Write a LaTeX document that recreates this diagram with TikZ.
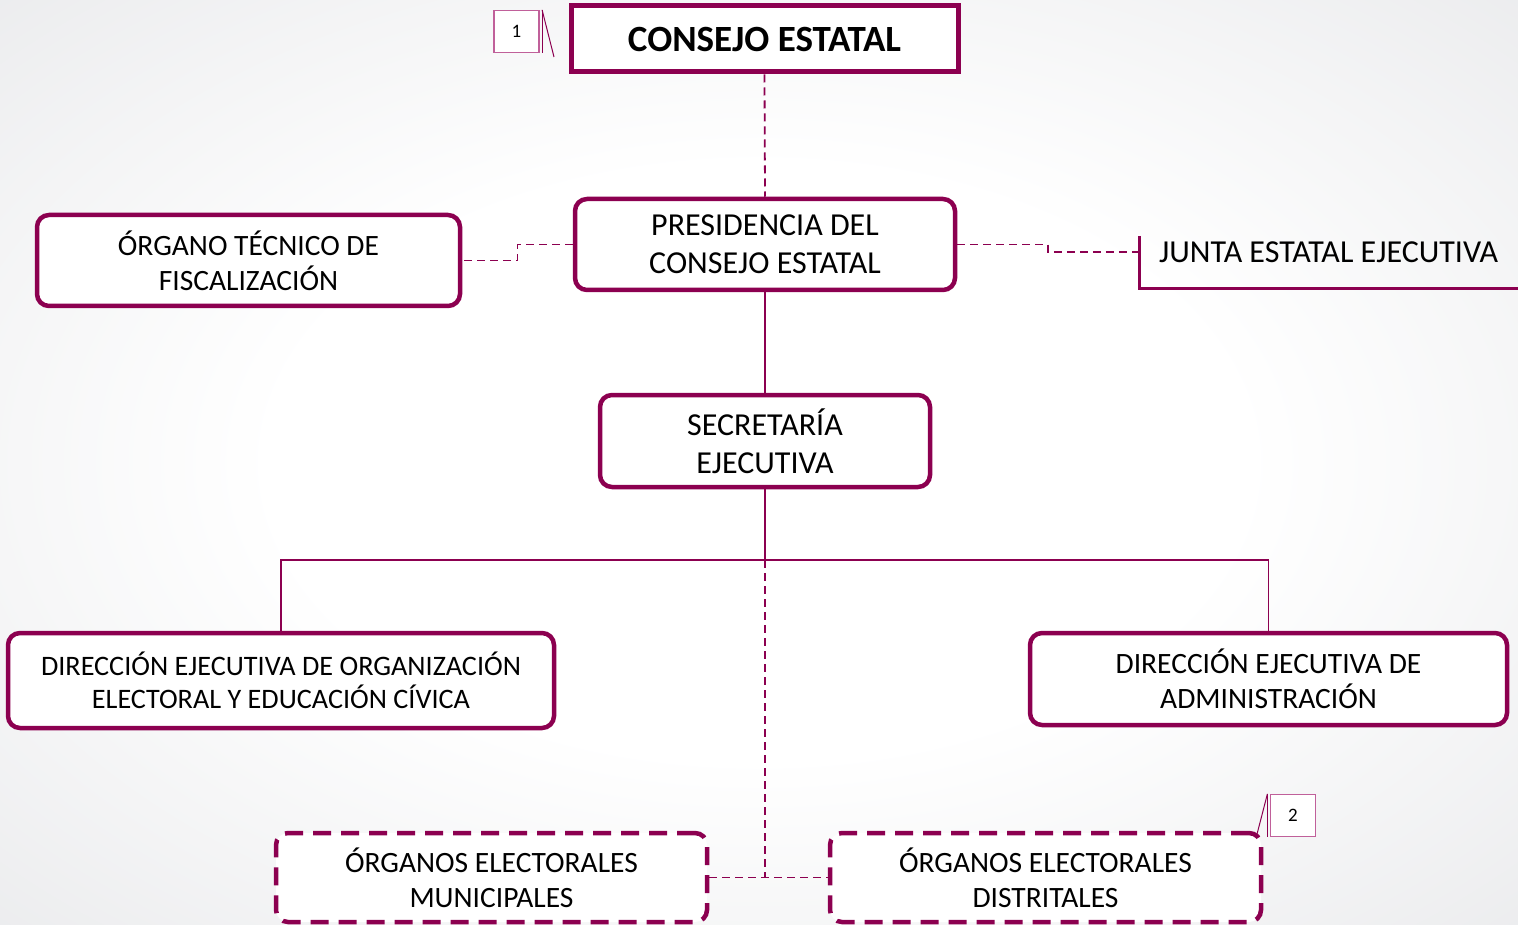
\documentclass[tikz,border=0pt]{standalone}
\usepackage{fontspec}
\setmainfont{Carlito}
\usepackage{tikz}
\usetikzlibrary{calc,positioning}
\definecolor{wine}{RGB}{140,0,80}
\definecolor{winelight}{RGB}{192,96,154}
\definecolor{bggray}{RGB}{222,223,226}
\pgfdeclareradialshading{glow}{\pgfpoint{0bp}{0bp}}{color(0bp)=(white); color(16bp)=(white); color(50bp)=(bggray)}
\tikzstyle{block} = [draw=wine, line width=4.5pt, rounded corners=12pt, fill=white, align=center, font=\fontsize{29.5}{35}\selectfont]
\tikzstyle{bigblock} = [block, font=\fontsize{32}{38}\selectfont]
\tikzstyle{dashblock} = [block, dash pattern=on 18pt off 10pt]
\tikzstyle{topblock} = [draw=wine, line width=5pt, fill=white, font=\fontsize{37}{44}\selectfont\bfseries]
\tikzstyle{callout} = [draw=winelight, line width=1.2pt, fill=white, minimum width=45pt, minimum height=42pt, font=\fontsize{19}{22}\selectfont]
\tikzstyle{link} = [draw=wine, line width=1.8pt]
\tikzstyle{dlink} = [link, dash pattern=on 8pt off 5pt]

\begin{document}
\begin{tikzpicture}[x=1pt, y=-1pt]
	  \useasboundingbox (0,0) rectangle (1518,925);
	  \shade[shading=glow] (0,0) rectangle (1518,925);
	
	  \node [topblock, minimum width=387pt, minimum height=66pt] (ce) at (764.5,39) {CONSEJO ESTATAL};
	  \node [bigblock, minimum width=380pt, minimum height=91pt] (pres) at (765,244.5) {PRESIDENCIA DEL\\CONSEJO ESTATAL};
	  \node [block, minimum width=423pt, minimum height=91pt] (otf) at (248.5,260.5) {ÓRGANO TÉCNICO DE\\FISCALIZACIÓN};
	  \node [anchor=west, minimum width=379pt, minimum height=72pt, text depth=0pt, font=\fontsize{32}{38}\selectfont] (jee) at (1139,252) {JUNTA ESTATAL EJECUTIVA};
	  \node [bigblock, minimum width=330pt, minimum height=92pt] (sec) at (765,441) {SECRETARÍA\\EJECUTIVA};
	  \node [block, minimum width=546pt, minimum height=95pt, font=\fontsize{28.2}{33}\selectfont] (deo) at (281,680.5) {DIRECCIÓN EJECUTIVA DE ORGANIZACIÓN\\ELECTORAL Y EDUCACIÓN CÍVICA};
	  \node [block, minimum width=477pt, minimum height=92pt] (dea) at (1268.5,679) {DIRECCIÓN EJECUTIVA DE\\ADMINISTRACIÓN};
	  \node [dashblock, minimum width=431pt, minimum height=89pt] (mun) at (491.5,877.5) {ÓRGANOS ELECTORALES\\MUNICIPALES};
	  \node [dashblock, minimum width=431pt, minimum height=89pt] (dis) at (1045.5,877.5) {ÓRGANOS ELECTORALES\\DISTRITALES};
	
	  % notas
	  \node [callout] (n1) at (516.5,31.5) {1};
	  \node [callout] (n2) at (1293,815.5) {2};
	  \coordinate (n1tip) at (554,57);
	  \coordinate (n2tip) at (1256,838);
	  \draw [wine, line width=1pt] ([xshift=2.5pt]n1.north east) -- ([xshift=2.5pt]n1.south east);
	  \draw [wine, line width=1pt] ([xshift=2.5pt]n1.north east) -- (n1tip);
	  \draw [wine, line width=1pt] ([xshift=-2.5pt]n2.north west) -- ([xshift=-2.5pt]n2.south west);
	  \draw [wine, line width=1pt] ([xshift=-2.5pt]n2.north west) -- (n2tip);
	
	  \coordinate (split) at (765,560);
	  \coordinate (meet) at (split |- mun.east);
	
	  \draw [dlink] (ce.south) -- (pres.north);
	  \draw [dlink] (pres.west) -| ($(pres.west)!0.5!(otf.east)$) |- (otf.east);
	  \draw [dlink] (pres.east) -| ($(pres.east)!0.5!(jee.west)$) |- (jee.west);
	  \draw [wine, line width=3pt] ([yshift=-20pt]jee.north west) |- (jee.south east);
	  \draw [link] (pres.south) -- (sec.north);
	  \draw [link] (sec.south) -- (split);
	  \draw [link] (deo.north) |- (split) -| (dea.north);
	  \draw [dlink] (split) -- (meet);
	  \draw [dlink] (mun.east) -- (dis.west);
	\end{tikzpicture}
\end{document}
